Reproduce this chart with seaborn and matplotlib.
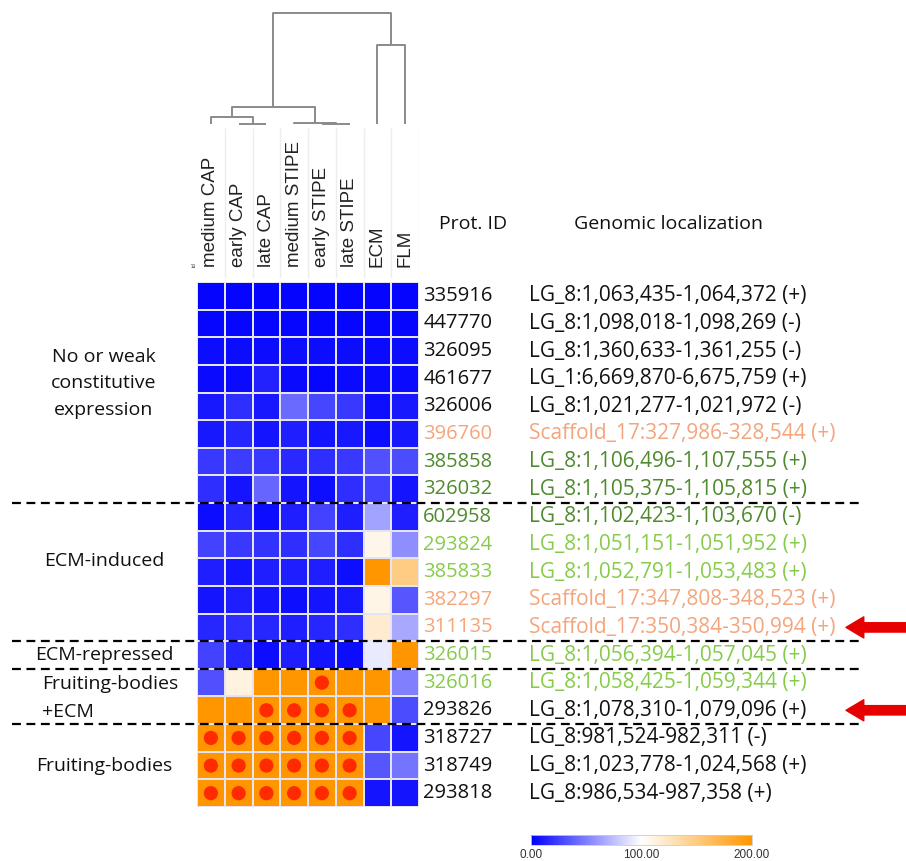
import numpy as np
import pandas as pd
import matplotlib
matplotlib.use("Agg")
import matplotlib.pyplot as plt
import seaborn as sns
from matplotlib.colors import LinearSegmentedColormap
from matplotlib.transforms import blended_transform_factory

COLUMNS = ["medium CAP", "early CAP", "late CAP", "medium STIPE",
           "early STIPE", "late STIPE", "ECM", "FLM"]

PROT_IDS = ["335916", "447770", "326095", "461677", "326006", "396760",
            "385858", "326032", "602958", "293824", "385833", "382297",
            "311135", "326015", "326016", "293826", "318727", "318749",
            "293818"]

LOCI = ["LG_8:1,063,435-1,064,372 (+)", "LG_8:1,098,018-1,098,269 (-)",
        "LG_8:1,360,633-1,361,255 (-)", "LG_1:6,669,870-6,675,759 (+)",
        "LG_8:1,021,277-1,021,972 (-)", "Scaffold_17:327,986-328,544 (+)",
        "LG_8:1,106,496-1,107,555 (+)", "LG_8:1,105,375-1,105,815 (+)",
        "LG_8:1,102,423-1,103,670 (-)", "LG_8:1,051,151-1,051,952 (+)",
        "LG_8:1,052,791-1,053,483 (+)", "Scaffold_17:347,808-348,523 (+)",
        "Scaffold_17:350,384-350,994 (+)", "LG_8:1,056,394-1,057,045 (+)",
        "LG_8:1,058,425-1,059,344 (+)", "LG_8:1,078,310-1,079,096 (+)",
        "LG_8:981,524-982,311 (-)", "LG_8:1,023,778-1,024,568 (+)",
        "LG_8:986,534-987,358 (+)"]

# label colour group per row: k=black, o=orange, dg=dark green, lg=light green
LABEL_GROUP = ["k", "k", "k", "k", "k", "o", "dg", "dg", "dg", "lg", "lg",
               "o", "o", "lg", "lg", "k", "k", "k", "k"]

VALUES = [
    [2, 2, 2, 2, 2, 2, 2, 2],
    [3, 3, 3, 3, 3, 3, 3, 3],
    [5, 5, 5, 6, 5, 5, 4, 5],
    [4, 4, 14, 4, 3, 4, 4, 4],
    [10, 18, 10, 42, 28, 22, 6, 10],
    [10, 15, 8, 12, 8, 10, 5, 10],
    [22, 24, 22, 16, 18, 22, 32, 30],
    [18, 8, 40, 8, 6, 18, 26, 8],
    [5, 15, 5, 12, 26, 12, 64, 12],
    [26, 22, 20, 18, 28, 18, 108, 56],
    [12, 8, 12, 12, 12, 6, 205, 148],
    [8, 12, 8, 6, 8, 10, 110, 34],
    [15, 18, 15, 12, 15, 18, 118, 66],
    [26, 15, 5, 12, 8, 5, 92, 205],
    [32, 112, 205, 205, 205, 205, 205, 50],
    [205, 205, 205, 205, 205, 205, 205, 30],
    [205, 205, 205, 205, 205, 205, 28, 8],
    [205, 205, 205, 205, 205, 205, 34, 46],
    [205, 205, 205, 205, 205, 205, 8, 8],
]

# (row, column) cells marked with a red dot
DOTS = [(14, 4), (15, 2), (15, 3), (15, 4), (15, 5)] + \
       [(r, c) for r in (16, 17, 18) for c in range(6)]

# column dendrogram, scipy-style merges: (left id, right id, height)
LINKS = [(4, 5, 0.5), (3, 8, 0.8), (1, 2, 0.3), (0, 10, 7.0),
         (11, 9, 17.0), (6, 7, 79.0), (12, 13, 111.0)]

GROUPS = [("No or weak\nconstitutive\nexpression", 3.66, "center", 1.6),
          ("ECM-induced", 10.1, "center", 1.4),
          ("ECM-repressed", 13.5, "center", 1.4),
          ("Fruiting-bodies\n+ECM", 15.05, "left", 1.75),
          ("Fruiting-bodies", 17.5, "center", 1.4)]
BOUNDARIES = [8, 13, 14, 16]
ARROW_ROWS = [12, 15]

LABEL_COLORS = {"k": "#111111", "o": "#F4A57C", "dg": "#4F8A2E", "lg": "#86CC4A"}

W, H = 906, 861
fig = plt.figure(figsize=(W / 100, H / 100), dpi=100)


def px_axes(x0, y0, x1, y1):
    return fig.add_axes([x0 / W, 1 - y1 / H, (x1 - x0) / W, (y1 - y0) / H])


cmap = LinearSegmentedColormap.from_list("bwo", ["#0000FF", "#FFFFFF", "#FF9600"])
df = pd.DataFrame(VALUES, index=PROT_IDS, columns=COLUMNS)

ax = px_axes(197, 282, 419, 807)
sns.heatmap(df, ax=ax, cmap=cmap, vmin=0, vmax=200, cbar=False,
            linewidths=1.2, linecolor="#E4E4F2", xticklabels=True, yticklabels=False)
ax.xaxis.tick_top()
ax.set_xticklabels(COLUMNS, rotation=90, fontsize=13.5, family="Liberation Sans",
                   color="#222222", va="bottom", ha="center")
ax.tick_params(axis="x", length=0, pad=11)
ax.tick_params(axis="y", length=0)
ax.set_xlabel("")
ax.set_ylabel("")

dr, dc = zip(*DOTS)
ax.scatter(np.array(dc) + 0.5, np.array(dr) + 0.5, s=105, color="#FF2A00",
           edgecolors="none", zorder=3)

# row labels
font_txt = "Open Sans"
fs = 14
for i, (pid, loc, g) in enumerate(zip(PROT_IDS, LOCI, LABEL_GROUP)):
    ax.text(8.15, i + 0.5, pid, fontsize=14.5, family=font_txt,
            color=LABEL_COLORS[g], va="center", ha="left")
    ax.text(11.95, i + 0.5, loc, fontsize=15, family=font_txt,
            color=LABEL_COLORS[g], va="center", ha="left")

fig.text(473 / W, 1 - 224 / H, "Prot. ID", fontsize=fs, family=font_txt,
         ha="center", va="center", color="#111111")
fig.text(669 / W, 1 - 224 / H, "Genomic localization", fontsize=fs,
         family=font_txt, ha="center", va="center", color="#111111")
fig.text(194 / W, 1 - 265 / H, "id", fontsize=4.5, rotation=90, ha="center",
         va="center", color="#444444", family="Liberation Sans")

# group labels and dashed separators
tr = blended_transform_factory(fig.transFigure, ax.transData)
for text, yrow, align, lsp in GROUPS:
    x = 42 / W if align == "left" else 104 / W
    ax.text(x, yrow, text, transform=tr, fontsize=fs, family=font_txt,
            ha=align, va="center", linespacing=lsp, color="#111111")
for b in BOUNDARIES:
    ax.plot([12 / W, 862 / W], [b, b], transform=tr, color="black", lw=1.6,
            ls=(0, (4, 2.5)), clip_on=False, zorder=5)
for r in ARROW_ROWS:
    ax.annotate("", xy=(846 / W, r + 0.5), xytext=(906 / W, r + 0.5),
                xycoords=tr, textcoords=tr,
                arrowprops=dict(arrowstyle="simple,head_length=0.8,head_width=0.95,tail_width=0.42",
                                color="#E60000", mutation_scale=16, shrinkA=0, shrinkB=0))

# faint column separators behind the header labels
hax = px_axes(197, 128, 419, 278)
hax.set_xlim(0, len(COLUMNS))
hax.set_ylim(0, 1)
hax.vlines(np.arange(1, len(COLUMNS) + 1), 0, 1, color="#EDEDED", lw=1)
hax.axis("off")
hax.set_zorder(-1)

# dendrogram
dax = px_axes(197, 13, 419, 124)
dax.set_xlim(0, len(COLUMNS))
dax.set_ylim(0, 111)
pos = {i: i + 0.5 for i in range(len(COLUMNS))}
hgt = {i: 0.0 for i in range(len(COLUMNS))}
for k, (a, b, h) in enumerate(LINKS):
    nid = len(COLUMNS) + k
    dax.plot([pos[a], pos[a], pos[b], pos[b]], [hgt[a], h, h, hgt[b]],
             color="#8A8A8A", lw=1.4, solid_capstyle="butt", clip_on=False)
    pos[nid] = (pos[a] + pos[b]) / 2
    hgt[nid] = h
dax.axis("off")

# colour bar
cax = px_axes(531, 835, 752, 845)
sm = plt.cm.ScalarMappable(cmap=cmap, norm=plt.Normalize(0, 200))
cb = fig.colorbar(sm, cax=cax, orientation="horizontal", ticks=[0, 100, 200])
cb.ax.set_xticklabels(["0.00", "100.00", "200.00"], fontsize=8.5,
                      family="Liberation Sans", color="#333333")
cb.ax.tick_params(length=0, pad=3)
cb.outline.set_edgecolor("#CCCCCC")
cb.outline.set_linewidth(0.6)

fig.savefig("out.png", dpi=100)
